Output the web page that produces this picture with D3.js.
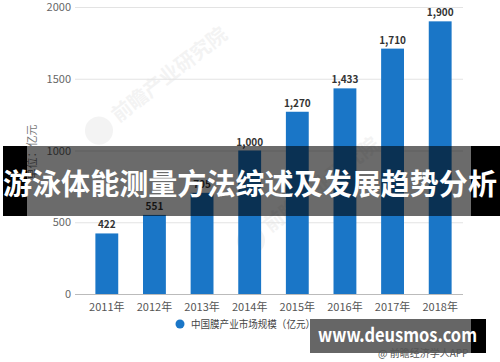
<!DOCTYPE html>
<html lang="zh">
  <head>
    <meta charset="UTF-8" />
    <title>中国膜产业市场规模</title>
    <script src="https://d3js.org/d3.v7.min.js"></script>
    <style>
      body {
        margin: 0;
        background: #fff;
        font-family: 'Noto Sans CJK SC', 'Noto Sans', sans-serif;
      }
      svg {
        display: block;
      }
    </style>
  </head>
  <body>
    <svg id="chart" width="500" height="362"></svg>
    <script>
      const years = ['2011年', '2012年', '2013年', '2014年', '2015年', '2016年', '2017年', '2018年'];
      const values = [422, 551, 705, 1000, 1270, 1433, 1710, 1900];
      const yTicks = [0, 500, 1000, 1500, 2000];
      const seriesName = '中国膜产业市场规模（亿元）';
      const unitLabel = '单位：亿元';
      const bannerText = '游泳体能测量方法综述及发展趋势分析';
      const siteText = 'www.deusmos.com';
      const sourceText = '@ 前瞻经济学人APP';

      const svg = d3.select('#chart');
      const plotLeft = 75,
        plotRight = 463,
        plotTop = 7,
        plotBottom = 294;

      const x = d3
        .scaleBand()
        .domain(years)
        .range([83, 464])
        .paddingInner(0.52)
        .paddingOuter(0.26);
      const y = d3.scaleLinear().domain([0, 2000]).range([plotBottom, plotTop]);

      // faint watermark
      function watermark(cx, cy) {
        const g = svg
          .append('g')
          .attr('transform', `translate(${cx},${cy}) rotate(-38)`)
          .attr('opacity', 0.06);
        g.append('circle')
          .attr('cx', -14)
          .attr('cy', 0)
          .attr('r', 14)
          .attr('fill', '#444');
        g.append('text')
          .attr('x', 6)
          .attr('y', 6)
          .attr('font-size', 20)
          .attr('font-weight', 'bold')
          .attr('fill', '#444')
          .text('前瞻产业研究院');
      }
      watermark(110, 122);
      watermark(262, 232);

      // grid
      svg
        .append('g')
        .selectAll('line')
        .data(yTicks.filter((d) => d > 0))
        .join('line')
        .attr('x1', plotLeft)
        .attr('x2', plotRight)
        .attr('y1', (d) => y(d) + 0.5)
        .attr('y2', (d) => y(d) + 0.5)
        .attr('stroke', '#e3e3e3');

      // y axis labels
      svg
        .append('g')
        .selectAll('text')
        .data(yTicks)
        .join('text')
        .attr('x', 71)
        .attr('y', (d) => y(d) + 4)
        .attr('text-anchor', 'end')
        .attr('font-size', 11)
        .attr('fill', '#666')
        .text((d) => d);

      svg
        .append('text')
        .attr('transform', 'translate(36,152) rotate(-90)')
        .attr('text-anchor', 'middle')
        .attr('font-size', 11)
        .attr('fill', '#777')
        .text(unitLabel);

      // bars
      svg
        .append('g')
        .selectAll('rect')
        .data(values)
        .join('rect')
        .attr('x', (d, i) => x(years[i]))
        .attr('y', (d) => y(d))
        .attr('width', x.bandwidth())
        .attr('height', (d) => plotBottom - y(d))
        .attr('fill', '#1a76c7');

      svg
        .append('g')
        .selectAll('text')
        .data(values)
        .join('text')
        .attr('x', (d, i) => x(years[i]) + x.bandwidth() / 2)
        .attr('y', (d) => y(d) - 5)
        .attr('text-anchor', 'middle')
        .attr('font-size', 10)
        .attr('font-weight', 'bold')
        .attr('fill', '#333')
        .text((d) => d3.format(',')(d));

      // x axis
      svg
        .append('line')
        .attr('x1', plotLeft)
        .attr('x2', plotRight)
        .attr('y1', plotBottom + 0.5)
        .attr('y2', plotBottom + 0.5)
        .attr('stroke', '#bbb');

      svg
        .append('g')
        .selectAll('text')
        .data(years)
        .join('text')
        .attr('x', (d) => x(d) + x.bandwidth() / 2)
        .attr('y', 311)
        .attr('text-anchor', 'middle')
        .attr('font-size', 11)
        .attr('fill', '#555')
        .text((d) => d);

      // legend
      svg
        .append('circle')
        .attr('cx', 180)
        .attr('cy', 324)
        .attr('r', 4.5)
        .attr('fill', '#1a76c7');
      svg
        .append('text')
        .attr('x', 191)
        .attr('y', 328)
        .attr('font-size', 10.5)
        .attr('fill', '#444')
        .attr('textLength', 124)
        .attr('lengthAdjust', 'spacingAndGlyphs')
        .text(seriesName);

      // banner overlay
      svg
        .append('rect')
        .attr('x', 3)
        .attr('y', 146)
        .attr('width', 497)
        .attr('height', 70)
        .attr('fill', 'rgba(0,0,0,0.58)');
      svg
        .append('rect')
        .attr('x', 3)
        .attr('y', 146)
        .attr('width', 24)
        .attr('height', 70)
        .attr('fill', '#000');
      svg
        .append('rect')
        .attr('x', 471)
        .attr('y', 146)
        .attr('width', 29)
        .attr('height', 70)
        .attr('fill', '#000');
      svg
        .append('text')
        .attr('x', 250)
        .attr('y', 195)
        .attr('text-anchor', 'middle')
        .attr('font-size', 29)
        .attr('font-weight', 'bold')
        .attr('fill', '#fff')
        .attr('textLength', 494)
        .attr('lengthAdjust', 'spacingAndGlyphs')
        .text(bannerText);

      // site box
      svg
        .append('rect')
        .attr('x', 310)
        .attr('y', 319)
        .attr('width', 161)
        .attr('height', 34)
        .attr('fill', 'rgba(0,0,0,0.6)');
      svg
        .append('rect')
        .attr('x', 471)
        .attr('y', 319)
        .attr('width', 15)
        .attr('height', 34)
        .attr('fill', '#000');
      svg
        .append('text')
        .attr('x', 318)
        .attr('y', 342)
        .attr('font-size', 19)
        .attr('font-weight', 'bold')
        .attr('fill', '#fff')
        .attr('textLength', 159)
        .attr('lengthAdjust', 'spacingAndGlyphs')
        .text(siteText);
      svg
        .append('text')
        .attr('x', 378)
        .attr('y', 357)
        .attr('font-size', 10)
        .attr('fill', '#555')
        .text(sourceText);
    </script>
  </body>
</html>
